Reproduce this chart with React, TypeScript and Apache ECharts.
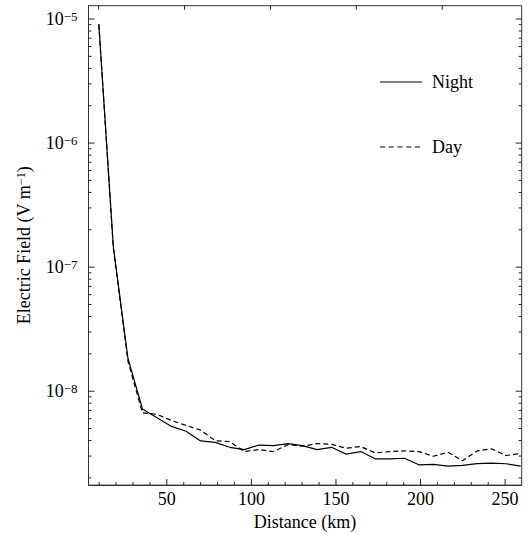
import React, { useEffect, useRef } from "react";
import * as echarts from "echarts";

// Distances (km) of the sampled points
const distance = [
  9.8, 18.4, 27.0, 35.6, 44.2, 52.8, 61.4, 70.0, 78.6, 87.2,
  95.8, 104.4, 113.0, 121.6, 130.2, 138.8, 147.4, 156.0, 164.6, 173.2,
  181.8, 190.4, 199.0, 207.6, 216.2, 224.8, 233.4, 242.0, 250.6, 259.2,
];
// Electric field (V/m), night
const night = [
  9.1e-6, 1.45e-7, 1.85e-8, 7.2e-9, 6.1e-9, 5.2e-9, 4.75e-9, 3.97e-9, 3.87e-9, 3.53e-9,
  3.38e-9, 3.68e-9, 3.64e-9, 3.78e-9, 3.64e-9, 3.38e-9, 3.53e-9, 3.11e-9, 3.26e-9, 2.85e-9,
  2.85e-9, 2.88e-9, 2.55e-9, 2.57e-9, 2.49e-9, 2.52e-9, 2.61e-9, 2.63e-9, 2.6e-9, 2.49e-9,
];
// Electric field (V/m), day
const day = [
  9.0e-6, 1.42e-7, 1.75e-8, 6.7e-9, 6.5e-9, 5.8e-9, 5.3e-9, 4.85e-9, 3.99e-9, 3.93e-9,
  3.26e-9, 3.38e-9, 3.26e-9, 3.71e-9, 3.6e-9, 3.78e-9, 3.73e-9, 3.47e-9, 3.58e-9, 3.18e-9,
  3.26e-9, 3.3e-9, 3.26e-9, 2.99e-9, 3.22e-9, 2.75e-9, 3.3e-9, 3.43e-9, 3.03e-9, 3.14e-9,
];

const seriesNames = ["Night", "Day"];
const xMajorTicks = [50, 100, 150, 200, 250];
const xMinorTicks = [10, 20, 30, 40, 60, 70, 80, 90, 110, 120, 130, 140, 160, 170, 180, 190, 210, 220, 230, 240];
const xTopTicks = [9.7, 60.5, 111.3, 162, 212.8];
const yDecades = [-9, -8, -7, -6, -5];
const yMantissas = [2, 3, 4, 5, 6, 7, 8, 9];

const X_MIN = 3.7;
const X_MAX = 259.8;
const Y_MIN = 1.75e-9;
const Y_MAX = 1.28e-5;

const FONT = "Liberation Serif";

const SOLID_ICON = "path://M0,0h42v1.2h-42z";
const DASH_ICON =
  "path://M0,0h5v1.2h-5zM8.75,0h5v1.2h-5zM17.5,0h5v1.2h-5zM26.25,0h5v1.2h-5zM35,0h5v1.2h-5z";

export default function App() {
  const ref = useRef<HTMLDivElement>(null);

  useEffect(() => {
    if (!ref.current) return;
    const chart = echarts.init(ref.current, undefined, { renderer: "svg" });

    // tick marks: [x, y, side(0 left,1 right,2 bottom,3 top), length]
    const ticks: number[][] = [];
    xMajorTicks.forEach((v) => ticks.push([v, Y_MIN, 2, 6]));
    xMinorTicks.forEach((v) => ticks.push([v, Y_MIN, 2, 3]));
    xTopTicks.forEach((v) => ticks.push([v, Y_MAX, 3, 4]));
    yDecades.forEach((e) => {
      const major = Math.pow(10, e);
      if (major >= Y_MIN && major <= Y_MAX) {
        ticks.push([X_MIN, major, 0, 6]);
        ticks.push([X_MAX, major, 1, 6]);
      }
      yMantissas.forEach((m) => {
        const v = m * major;
        if (v >= Y_MIN && v <= Y_MAX) {
          ticks.push([X_MIN, v, 0, 3]);
          ticks.push([X_MAX, v, 1, 3]);
        }
      });
    });

    const pow10Label = (v: number) => {
      const e = Math.log10(v);
      const r = Math.round(e);
      if (Math.abs(e - r) > 1e-6) return "";
      return "{b|10}{s|\u2212" + Math.abs(r) + "}";
    };

    const legendText = { fontFamily: FONT, fontSize: 18, color: "#000", padding: [0, 0, 0, 5] };

    chart.setOption({
      animation: false,
      grid: {
        left: 88.5,
        right: 9.3,
        top: 5.7,
        bottom: 46,
        show: true,
        borderColor: "#333",
        borderWidth: 1,
        backgroundColor: "transparent",
      },
      legend: [
        {
          data: [{ name: seriesNames[0], icon: SOLID_ICON }],
          left: 375,
          top: 68,
          itemWidth: 42,
          itemHeight: 1.2,
          textStyle: legendText,
        },
        {
          data: [{ name: seriesNames[1], icon: DASH_ICON }],
          left: 375,
          top: 133,
          itemWidth: 40,
          itemHeight: 1.2,
          textStyle: { ...legendText, padding: [0, 0, 0, 7] },
        },
      ],
      xAxis: {
        type: "value",
        min: X_MIN,
        max: X_MAX,
        minInterval: 50,
        maxInterval: 50,
        name: "Distance (km)",
        nameLocation: "middle",
        nameGap: 24,
        nameTextStyle: { fontFamily: FONT, fontSize: 18, color: "#000" },
        axisLine: { show: true, lineStyle: { color: "#333", width: 1 } },
        axisTick: { show: false },
        splitLine: { show: false },
        axisLabel: {
          fontFamily: FONT,
          fontSize: 18,
          color: "#000",
          margin: 5,
          showMinLabel: false,
          showMaxLabel: false,
          formatter: (v: number) => (Math.abs(v % 50) < 1e-6 ? String(Math.round(v)) : ""),
        },
      },
      yAxis: {
        type: "log",
        logBase: 10,
        min: Y_MIN,
        max: Y_MAX,
        name: "Electric Field (V m{s|\u22121})",
        nameLocation: "middle",
        nameGap: 56,
        nameRotate: 90,
        nameTextStyle: {
          fontFamily: FONT,
          fontSize: 18,
          color: "#000",
          rich: {
            s: { fontFamily: FONT, fontSize: 12, color: "#000", verticalAlign: "top" },
          },
        },
        axisLine: { show: true, lineStyle: { color: "#333", width: 1 } },
        axisTick: { show: false },
        splitLine: { show: false },
        axisLabel: {
          margin: 11,
          showMinLabel: false,
          showMaxLabel: false,
          formatter: pow10Label,
          rich: {
            b: { fontFamily: FONT, fontSize: 18, color: "#000" },
            s: { fontFamily: FONT, fontSize: 13, color: "#000", verticalAlign: "top" },
          },
        },
      },
      series: [
        {
          name: seriesNames[0],
          type: "line",
          data: distance.map((d, i) => [d, night[i]]),
          symbol: "none",
          showSymbol: false,
          lineStyle: { color: "#000", width: 1.2, type: "solid" },
          itemStyle: { color: "#000" },
        },
        {
          name: seriesNames[1],
          type: "line",
          data: distance.map((d, i) => [d, day[i]]),
          symbol: "none",
          showSymbol: false,
          lineStyle: { color: "#000", width: 1.2, type: [5, 3] },
          itemStyle: { color: "#000" },
        },
        {
          name: "ticks",
          type: "custom",
          silent: true,
          data: ticks,
          renderItem: (params: any, api: any) => {
            const side = api.value(2);
            const len = api.value(3);
            const p = api.coord([api.value(0), api.value(1)]);
            let x2 = p[0];
            let y2 = p[1];
            if (side === 0) x2 += len;
            else if (side === 1) x2 -= len;
            else if (side === 2) y2 -= len;
            else y2 += len;
            return {
              type: "line",
              shape: { x1: p[0], y1: p[1], x2, y2 },
              style: { stroke: "#222", lineWidth: 1 },
            };
          },
        },
      ],
    });

    return () => chart.dispose();
  }, []);

  return (
    <div
      ref={ref}
      style={{ position: "fixed", left: 0, top: 0, width: 531, height: 536, background: "#fff" }}
    />
  );
}
